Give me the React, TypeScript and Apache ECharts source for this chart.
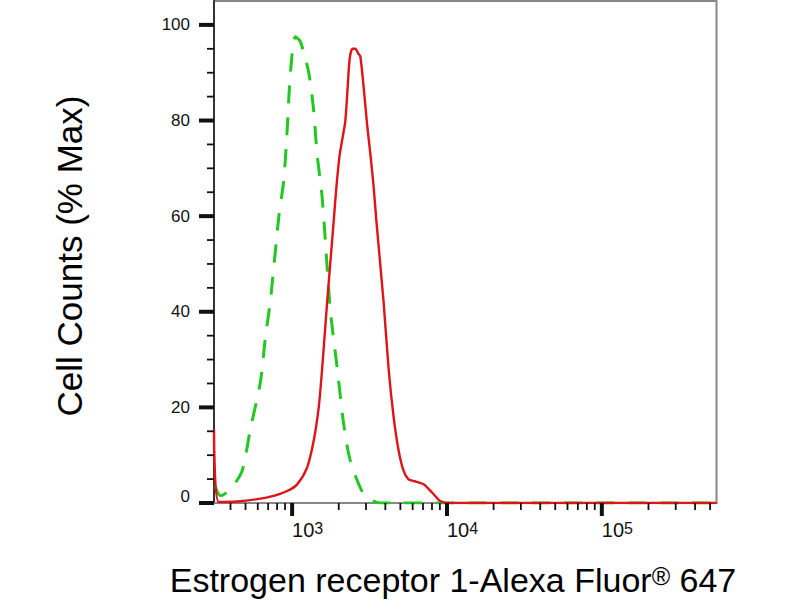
import React, { useEffect, useRef } from 'react';
import * as echarts from 'echarts';

// Sample (red, solid) histogram: fluorescence intensity vs % max
const redX = [313, 336, 442, 594, 761, 929, 1077, 1249, 1378, 1485, 1562, 1683, 1855, 1931, 2028, 2133, 2207, 2284, 2354, 2451, 2560, 2677, 2758, 2896, 3046, 3200, 3363, 3500, 3897, 4200, 4522, 4871, 5249, 5627, 6093, 7068, 8000, 9053, 10040, 30000, 550000];
const redY = [15.4, 0.2, 0.3, 0.8, 1.5, 2.5, 3.9, 7.4, 13, 20, 28, 42, 58.9, 66, 72.8, 77, 80, 87, 93, 95, 95, 94, 93.4, 87, 79.3, 73, 66, 59, 42, 28, 18, 11, 6.7, 5, 4.6, 3.9, 2.2, 0.4, 0, 0, 0];

// Isotype control (green, dashed)
const greenX = [318, 345, 400, 475, 538, 624, 672, 724, 820, 883, 929, 975, 1050, 1131, 1280, 1378, 1449, 1562, 1766, 1952, 2153, 2377, 2898, 3359, 3713, 30000, 550000];
const greenY = [3.5, 1.5, 2.9, 6.7, 15.5, 25.3, 34.7, 42.3, 59.8, 67.5, 78, 90, 97.5, 96.5, 90, 82, 73, 64, 40.3, 28.4, 16.5, 8.8, 1.8, 0.4, 0, 0, 0];

// Axis ticks
const xMajorTicks = [1000, 10000, 100000];
const xMinorTicks = [400, 500, 600, 700, 800, 900, 2000, 3000, 4000, 5000, 6000, 7000, 8000, 9000, 20000, 30000, 40000, 50000, 60000, 70000, 80000, 90000, 200000, 300000, 400000, 500000];
const yMajorTicks = [0, 20, 40, 60, 80, 100];
const yMinorTicks = [5, 10, 15, 25, 30, 35, 45, 50, 55, 65, 70, 75, 85, 90, 95];

const X_MIN = 313;
const X_MAX = 550000;
const Y_MIN = 0;
const Y_MAX = 105;

const FONT = "'Liberation Sans', Arial, Helvetica, sans-serif";

export default function App() {
  const ref = useRef<HTMLDivElement>(null);

  useEffect(() => {
    if (!ref.current) return;
    const chart = echarts.init(ref.current, null, { renderer: 'svg' });

    const redData = redX.map((x, i) => [x, redY[i]]);
    const greenData = greenX.map((x, i) => [x, greenY[i]]);

    const isPow10 = (v: number) => {
      const l = Math.log10(v);
      return Math.abs(l - Math.round(l)) < 1e-6;
    };

    chart.setOption({
      animation: false,
      backgroundColor: '#ffffff',
      grid: {
        left: 214,
        right: 83.5,
        top: 1,
        bottom: 97,
        show: true,
        borderColor: '#888',
        borderWidth: 2,
        containLabel: false,
        outerBoundsMode: 'none',
      },
      xAxis: {
        type: 'log',
        logBase: 10,
        min: X_MIN,
        max: X_MAX,
        axisLine: { show: true, lineStyle: { color: '#888', width: 2 } },
        axisTick: { show: false },
        minorTick: { show: false },
        splitLine: { show: false },
        axisLabel: {
          show: true,
          align: 'left',
          margin: 17,
          fontSize: 20,
          fontFamily: FONT,
          color: '#111',
          showMinLabel: true,
          showMaxLabel: true,
          formatter: (v: number) =>
            isPow10(v) ? `{b|10}{s|${Math.round(Math.log10(v))}}` : '',
          rich: {
            b: {
              fontSize: 20,
              fontFamily: FONT,
              color: '#111',
              lineHeight: 20,
              padding: [9, 0, 0, 0],
              verticalAlign: 'bottom',
            },
            s: {
              fontSize: 16,
              fontFamily: FONT,
              color: '#111',
              lineHeight: 16,
              verticalAlign: 'top',
            },
          },
        },
      },
      yAxis: {
        type: 'value',
        min: Y_MIN,
        max: Y_MAX,
        interval: 20,
        axisLine: { show: true, lineStyle: { color: '#333', width: 2 } },
        axisTick: { show: false },
        splitLine: { show: false },
        axisLabel: {
          show: true,
          margin: 24,
          fontSize: 17,
          fontFamily: FONT,
          color: '#111',
          showMaxLabel: false,
          formatter: (v: number) =>
            v === 0 ? '{z|0}' : v % 20 === 0 && v <= 100 ? String(v) : '',
          rich: {
            z: {
              fontSize: 17,
              fontFamily: FONT,
              color: '#111',
              padding: [0, 0, 14, 0],
            },
          },
        },
      },
      series: [
        {
          type: 'line',
          name: 'Isotype control',
          data: greenData,
          showSymbol: false,
          smooth: 0.25,
          z: 3,
          lineStyle: { color: '#22c822', width: 3, type: [18, 14] },
        },
        {
          type: 'line',
          name: 'Estrogen receptor 1',
          data: redData,
          showSymbol: false,
          smooth: 0.25,
          z: 4,
          lineStyle: { color: '#dd1418', width: 2.4 },
        },
      ],
    });

    // Tick marks placed through the chart's own axis scales
    const finder = { xAxisIndex: 0, yAxisIndex: 0 };
    const tickEls: any[] = [];
    const xTick = (v: number, len: number, w: number) => {
      const p = chart.convertToPixel(finder, [v, Y_MIN]) as number[];
      tickEls.push({
        type: 'line',
        silent: true,
        z: 10,
        shape: { x1: p[0], y1: p[1], x2: p[0], y2: p[1] + len },
        style: { stroke: '#111', lineWidth: w },
      });
    };
    const yTick = (v: number, len: number, w: number) => {
      const p = chart.convertToPixel(finder, [X_MIN, v]) as number[];
      tickEls.push({
        type: 'line',
        silent: true,
        z: 10,
        shape: { x1: p[0] - len, y1: p[1], x2: p[0], y2: p[1] },
        style: { stroke: '#111', lineWidth: w },
      });
    };
    xMajorTicks.forEach((v) => xTick(v, 13, 4));
    xMinorTicks.forEach((v) => xTick(v, 7, 1.8));
    yMajorTicks.forEach((v) => yTick(v, 15, 4));
    yMinorTicks.forEach((v) => yTick(v, 7, 1.8));

    chart.setOption({
      graphic: [
        {
          type: 'text',
          x: 69,
          y: 256,
          rotation: Math.PI / 2,
          style: {
            text: 'Cell Counts (% Max)',
            fontSize: 35,
            fontFamily: FONT,
            fill: '#000',
            align: 'center',
            verticalAlign: 'middle',
          },
        },
        {
          type: 'text',
          x: 453,
          y: 580,
          style: {
            text: '{a|Estrogen receptor 1-Alexa Fluor}{r|®}{a| 647}',
            align: 'center',
            verticalAlign: 'middle',
            rich: {
              a: { fontSize: 34, fontFamily: FONT, fill: '#000' },
              r: { fontSize: 25, fontFamily: FONT, fill: '#000', verticalAlign: 'top' },
            },
          },
        },
        ...tickEls,
      ],
    });

    return () => chart.dispose();
  }, []);

  return (
    <div
      ref={ref}
      style={{ position: 'fixed', left: 0, top: 0, width: 800, height: 600, background: '#fff' }}
    />
  );
}
